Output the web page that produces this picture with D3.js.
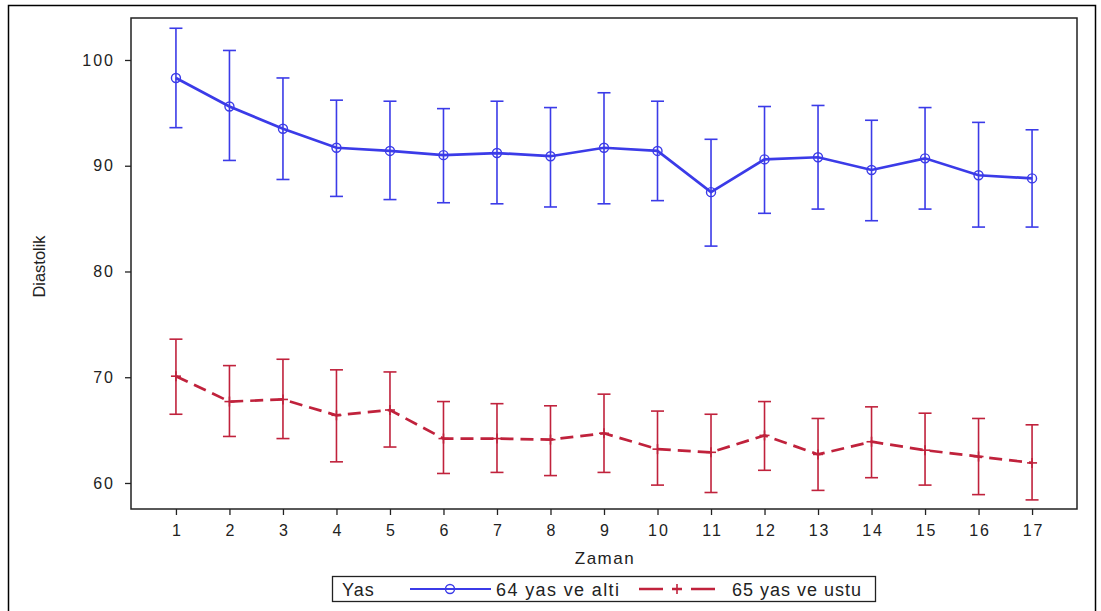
<!DOCTYPE html>
<html>
<head>
<meta charset="utf-8">
<script src="https://cdn.jsdelivr.net/npm/d3@7"></script>
<style>
  body { margin: 0; background: #fff; }
  text { font-family: "Liberation Sans", Arial, sans-serif; }
</style>
</head>
<body>
<div id="chart"></div>
<script>
const zaman = [1, 2, 3, 4, 5, 6, 7, 8, 9, 10, 11, 12, 13, 14, 15, 16, 17];

// 64 yas ve alti
const gencMean = [98.3, 95.6, 93.5, 91.7, 91.4, 91.0, 91.2, 90.9, 91.7, 91.4, 87.5, 90.6, 90.8, 89.6, 90.7, 89.1, 88.8];
const gencUst  = [103.0, 100.9, 98.3, 96.2, 96.1, 95.4, 96.1, 95.5, 96.9, 96.1, 92.5, 95.6, 95.7, 94.3, 95.5, 94.1, 93.4];
const gencAlt  = [93.6, 90.5, 88.7, 87.1, 86.8, 86.5, 86.4, 86.1, 86.4, 86.7, 82.4, 85.5, 85.9, 84.8, 85.9, 84.2, 84.2];

// 65 yas ve ustu
const yasliMean = [70.1, 67.7, 67.9, 66.4, 66.9, 64.2, 64.2, 64.1, 64.7, 63.2, 62.9, 64.5, 62.7, 63.9, 63.1, 62.5, 61.9];
const yasliUst  = [73.6, 71.1, 71.7, 70.7, 70.5, 67.7, 67.5, 67.3, 68.4, 66.8, 66.5, 67.7, 66.1, 67.2, 66.6, 66.1, 65.5];
const yasliAlt  = [66.5, 64.4, 64.2, 62.0, 63.4, 60.9, 61.0, 60.7, 61.0, 59.8, 59.1, 61.2, 59.3, 60.5, 59.8, 58.9, 58.4];

const yTicks = [60, 70, 80, 90, 100];
const legendTitle = "Yas";
const seriesNames = ["64 yas ve alti", "65 yas ve ustu"];

const W = 1101, H = 611;
const plot = { left: 131, right: 1077, top: 18, bottom: 509 };
const blue = "#3b3be8", red = "#c0223c";

const svg = d3.select("#chart").append("svg")
  .attr("width", W).attr("height", H);

// outer frame
svg.append("rect").attr("x", 8.5).attr("y", 5.5).attr("width", 1087).attr("height", 620)
  .attr("fill", "none").attr("stroke", "#000").attr("stroke-width", 1.5);

const x = d3.scaleLinear().domain([0.16, 17.84]).range([plot.left, plot.right]);
const y = d3.scaleLinear().domain([57.54, 103.97]).range([plot.bottom, plot.top]);

// plot frame
svg.append("rect").attr("x", plot.left).attr("y", plot.top)
  .attr("width", plot.right - plot.left).attr("height", plot.bottom - plot.top)
  .attr("fill", "none").attr("stroke", "#222").attr("stroke-width", 1.5);

const xAxis = svg.append("g").attr("transform", `translate(0,${plot.bottom})`)
  .call(d3.axisBottom(x).tickValues(zaman).tickSize(6).tickPadding(10).tickFormat(d3.format("d")));
const yAxis = svg.append("g").attr("transform", `translate(${plot.left},0)`)
  .call(d3.axisLeft(y).tickValues(yTicks).tickSize(6).tickPadding(10));
[xAxis, yAxis].forEach(a => {
  a.select(".domain").remove();
  a.selectAll(".tick line").attr("stroke", "#222").attr("stroke-width", 1.3);
  a.selectAll(".tick text").attr("fill", "#222").style("font-size", "16px")
    .style("letter-spacing", "2px").style("font-family", "'Liberation Sans', Arial, sans-serif");
});
xAxis.selectAll(".tick text").attr("dx", "1px");

svg.append("text").attr("x", (plot.left + plot.right) / 2 + 1).attr("y", 564)
  .attr("text-anchor", "middle").style("font-size", "17px").style("letter-spacing", "1.5px")
  .attr("fill", "#222").text("Zaman");
svg.append("text")
  .attr("transform", `translate(45,${(plot.top + plot.bottom) / 2 + 3}) rotate(-90)`)
  .attr("text-anchor", "middle").style("font-size", "16px")
  .attr("textLength", 62).attr("lengthAdjust", "spacingAndGlyphs")
  .attr("fill", "#222").text("Diastolik");

function drawSeries(mean, ust, alt, color, dashed, marker) {
  const g = svg.append("g");
  const capW = 13;
  zaman.forEach((t, i) => {
    const cx = x(t);
    g.append("line").attr("x1", cx).attr("x2", cx).attr("y1", y(ust[i])).attr("y2", y(alt[i]))
      .attr("stroke", color).attr("stroke-width", 1.6);
    g.append("line").attr("x1", cx - capW / 2).attr("x2", cx + capW / 2)
      .attr("y1", y(ust[i])).attr("y2", y(ust[i])).attr("stroke", color).attr("stroke-width", 1.6);
    g.append("line").attr("x1", cx - capW / 2).attr("x2", cx + capW / 2)
      .attr("y1", y(alt[i])).attr("y2", y(alt[i])).attr("stroke", color).attr("stroke-width", 1.6);
  });
  const line = d3.line().x((d, i) => x(zaman[i])).y(d => y(d));
  g.append("path").datum(mean).attr("d", line).attr("fill", "none")
    .attr("stroke", color).attr("stroke-width", 2.7)
    .attr("stroke-dasharray", dashed ? "13,7" : null);
  mean.forEach((v, i) => marker(g, x(zaman[i]), y(v), color));
}

function circleMarker(g, cx, cy, color) {
  g.append("circle").attr("cx", cx).attr("cy", cy).attr("r", 4.5)
    .attr("fill", "none").attr("stroke", color).attr("stroke-width", 1.4);
}
function plusMarker(g, cx, cy, color) {
  g.append("line").attr("x1", cx - 5).attr("x2", cx + 5).attr("y1", cy).attr("y2", cy)
    .attr("stroke", color).attr("stroke-width", 1.6);
  g.append("line").attr("x1", cx).attr("x2", cx).attr("y1", cy - 5).attr("y2", cy + 5)
    .attr("stroke", color).attr("stroke-width", 1.6);
}

drawSeries(gencMean, gencUst, gencAlt, blue, false, circleMarker);
drawSeries(yasliMean, yasliUst, yasliAlt, red, true, plusMarker);

// legend
const lg = svg.append("g");
const legendFont = t => t.style("font-size", "18px").style("letter-spacing", "1px").attr("fill", "#222");
lg.append("rect").attr("x", 332.5).attr("y", 576.5).attr("width", 543).attr("height", 25)
  .attr("fill", "#fff").attr("stroke", "#222").attr("stroke-width", 1.3);
lg.append("text").attr("x", 342).attr("y", 596).call(legendFont).text(legendTitle);
lg.append("line").attr("x1", 410).attr("x2", 491).attr("y1", 589).attr("y2", 589)
  .attr("stroke", blue).attr("stroke-width", 2.2);
circleMarker(lg, 450, 589, blue);
lg.append("text").attr("x", 496).attr("y", 596).call(legendFont)
  .attr("textLength", 124).attr("lengthAdjust", "spacing").text(seriesNames[0]);
lg.append("line").attr("x1", 639).attr("x2", 715).attr("y1", 589).attr("y2", 589)
  .attr("stroke", red).attr("stroke-width", 2.4).attr("stroke-dasharray", "24,9,10,9,24");
plusMarker(lg, 677, 589, red);
lg.append("text").attr("x", 732).attr("y", 596).call(legendFont)
  .attr("textLength", 130).attr("lengthAdjust", "spacing").text(seriesNames[1]);
</script>
</body>
</html>
